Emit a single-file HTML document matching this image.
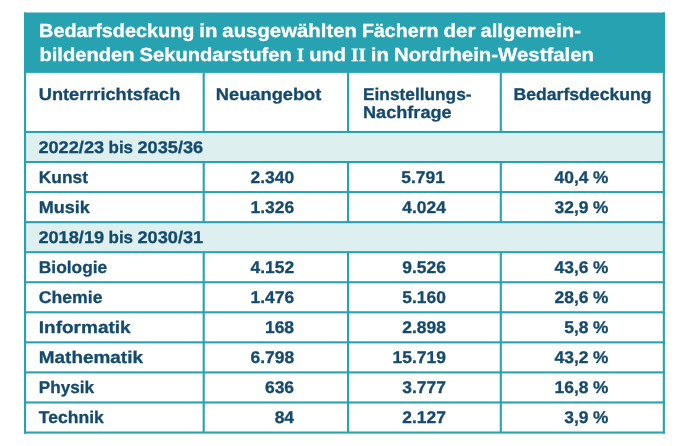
<!DOCTYPE html>
<html lang="de"><head><meta charset="utf-8"><title>Bedarfsdeckung</title>
<style>
html,body{margin:0;padding:0;background:#fff;width:690px;height:446px;overflow:hidden}
svg text{font-family:"Liberation Sans", sans-serif;font-weight:700;stroke-width:.3px;stroke-linejoin:round;text-rendering:geometricPrecision}
svg .sf{font-family:"Liberation Serif", serif}
</style></head><body>
<svg width="690" height="446" viewBox="0 0 690 446" style="position:absolute;left:0;top:0;will-change:transform">
<rect x="0" y="0" width="690" height="446" fill="#fff"/>
<rect x="25" y="132.00" width="638.9" height="30.05" fill="#ddefee"/>
<rect x="25" y="222.15" width="638.9" height="30.05" fill="#ddefee"/>
<rect x="24" y="12.5" width="640.9" height="60.40" fill="#27a2b1"/>
<rect x="24" y="12.5" width="2.1" height="421.1" fill="#27a2b1"/>
<rect x="662.8" y="12.5" width="2.1" height="421.1" fill="#27a2b1"/>
<rect x="24" y="431.5" width="640.9" height="2.1" fill="#27a2b1"/>
<rect x="24" y="130.95" width="640.9" height="2.1" fill="#27a2b1"/>
<rect x="24" y="161.00" width="640.9" height="2.1" fill="#27a2b1"/>
<rect x="24" y="191.05" width="640.9" height="2.1" fill="#27a2b1"/>
<rect x="24" y="221.10" width="640.9" height="2.1" fill="#27a2b1"/>
<rect x="24" y="251.15" width="640.9" height="2.1" fill="#27a2b1"/>
<rect x="24" y="281.20" width="640.9" height="2.1" fill="#27a2b1"/>
<rect x="24" y="311.25" width="640.9" height="2.1" fill="#27a2b1"/>
<rect x="24" y="341.30" width="640.9" height="2.1" fill="#27a2b1"/>
<rect x="24" y="371.35" width="640.9" height="2.1" fill="#27a2b1"/>
<rect x="24" y="401.40" width="640.9" height="2.1" fill="#27a2b1"/>
<rect x="202.65" y="72.90" width="2.1" height="59.10" fill="#27a2b1"/>
<rect x="347.00" y="72.90" width="2.1" height="59.10" fill="#27a2b1"/>
<rect x="499.75" y="72.90" width="2.1" height="59.10" fill="#27a2b1"/>
<rect x="202.65" y="162.05" width="2.1" height="60.10" fill="#27a2b1"/>
<rect x="347.00" y="162.05" width="2.1" height="60.10" fill="#27a2b1"/>
<rect x="499.75" y="162.05" width="2.1" height="60.10" fill="#27a2b1"/>
<rect x="202.65" y="252.20" width="2.1" height="180.40" fill="#27a2b1"/>
<rect x="347.00" y="252.20" width="2.1" height="180.40" fill="#27a2b1"/>
<rect x="499.75" y="252.20" width="2.1" height="180.40" fill="#27a2b1"/>
<text id="t1" y="37.40" font-size="18.92" fill="#fff" stroke="#fff"><tspan x="39.10" textLength="155.24" lengthAdjust="spacingAndGlyphs">Bedarfsdeckung</tspan> <tspan x="199.28" textLength="18.15" lengthAdjust="spacingAndGlyphs">in</tspan> <tspan x="222.37" textLength="134.57" lengthAdjust="spacingAndGlyphs">ausgewählten</tspan> <tspan x="361.91" textLength="76.58" lengthAdjust="spacingAndGlyphs">Fächern</tspan> <tspan x="443.43" textLength="32.03" lengthAdjust="spacingAndGlyphs">der</tspan> <tspan x="480.42" textLength="100.58" lengthAdjust="spacingAndGlyphs">allgemein-</tspan></text>
<text id="t2" y="61.40" font-size="18.92" fill="#fff" stroke="#fff"><tspan x="39.40" textLength="95.28" lengthAdjust="spacingAndGlyphs">bildenden</tspan> <tspan x="139.62" textLength="152.19" lengthAdjust="spacingAndGlyphs">Sekundarstufen</tspan> <tspan class="sf" x="296.76" textLength="7.45" lengthAdjust="spacingAndGlyphs">I</tspan> <tspan x="309.16" textLength="36.93" lengthAdjust="spacingAndGlyphs">und</tspan> <tspan class="sf" x="351.03" textLength="14.88" lengthAdjust="spacingAndGlyphs">II</tspan> <tspan x="370.86" textLength="18.14" lengthAdjust="spacingAndGlyphs">in</tspan> <tspan x="393.96" textLength="200.04" lengthAdjust="spacingAndGlyphs">Nordrhein-Westfalen</tspan></text>
<text id="h1" y="100.10" font-size="16.99" fill="#144a6e" stroke="#144a6e"><tspan x="38.80" textLength="141.48" lengthAdjust="spacingAndGlyphs">Unterrrichtsfach</tspan></text>
<text id="h2" y="100.10" font-size="16.99" fill="#144a6e" stroke="#144a6e"><tspan x="215.80" textLength="105.56" lengthAdjust="spacingAndGlyphs">Neuangebot</tspan></text>
<text id="h3a" y="100.10" font-size="16.99" fill="#144a6e" stroke="#144a6e"><tspan x="363.00" textLength="108.56" lengthAdjust="spacingAndGlyphs">Einstellungs-</tspan></text>
<text id="h3b" y="118.10" font-size="16.99" fill="#144a6e" stroke="#144a6e"><tspan x="363.00" textLength="88.66" lengthAdjust="spacingAndGlyphs">Nachfrage</tspan></text>
<text id="h4" y="100.10" font-size="16.99" fill="#144a6e" stroke="#144a6e"><tspan x="513.50" textLength="138.00" lengthAdjust="spacingAndGlyphs">Bedarfsdeckung</tspan></text>
<text id="r0a" y="152.72" font-size="16.99" fill="#144a6e" stroke="#144a6e"><tspan x="38.40" textLength="65.73" lengthAdjust="spacingAndGlyphs">2022/23</tspan> <tspan x="108.55" textLength="24.51" lengthAdjust="spacingAndGlyphs">bis</tspan> <tspan x="137.49" textLength="65.73" lengthAdjust="spacingAndGlyphs">2035/36</tspan></text>
<text id="r1a" y="182.78" font-size="16.99" fill="#144a6e" stroke="#144a6e"><tspan x="38.80" textLength="49.11" lengthAdjust="spacingAndGlyphs">Kunst</tspan></text>
<text id="r1b" y="182.78" font-size="16.99" fill="#144a6e" stroke="#144a6e"><tspan x="250.47" textLength="43.63" lengthAdjust="spacingAndGlyphs">2.340</tspan></text>
<text id="r1c" y="182.78" font-size="16.99" fill="#144a6e" stroke="#144a6e"><tspan x="401.27" textLength="43.63" lengthAdjust="spacingAndGlyphs">5.791</tspan></text>
<text id="r1d" y="182.78" font-size="16.99" fill="#144a6e" stroke="#144a6e"><tspan x="554.58" textLength="33.99" lengthAdjust="spacingAndGlyphs">40,4</tspan> <tspan x="592.97" textLength="15.33" lengthAdjust="spacingAndGlyphs">%</tspan></text>
<text id="r2a" y="212.82" font-size="16.99" fill="#144a6e" stroke="#144a6e"><tspan x="38.80" textLength="51.04" lengthAdjust="spacingAndGlyphs">Musik</tspan></text>
<text id="r2b" y="212.82" font-size="16.99" fill="#144a6e" stroke="#144a6e"><tspan x="250.47" textLength="43.63" lengthAdjust="spacingAndGlyphs">1.326</tspan></text>
<text id="r2c" y="212.82" font-size="16.99" fill="#144a6e" stroke="#144a6e"><tspan x="402.27" textLength="43.63" lengthAdjust="spacingAndGlyphs">4.024</tspan></text>
<text id="r2d" y="212.82" font-size="16.99" fill="#144a6e" stroke="#144a6e"><tspan x="554.58" textLength="33.99" lengthAdjust="spacingAndGlyphs">32,9</tspan> <tspan x="592.97" textLength="15.33" lengthAdjust="spacingAndGlyphs">%</tspan></text>
<text id="r3a" y="242.88" font-size="16.99" fill="#144a6e" stroke="#144a6e"><tspan x="38.40" textLength="65.73" lengthAdjust="spacingAndGlyphs">2018/19</tspan> <tspan x="108.55" textLength="24.51" lengthAdjust="spacingAndGlyphs">bis</tspan> <tspan x="137.49" textLength="65.73" lengthAdjust="spacingAndGlyphs">2030/31</tspan></text>
<text id="r4a" y="272.92" font-size="16.99" fill="#144a6e" stroke="#144a6e"><tspan x="38.80" textLength="68.41" lengthAdjust="spacingAndGlyphs">Biologie</tspan></text>
<text id="r4b" y="272.92" font-size="16.99" fill="#144a6e" stroke="#144a6e"><tspan x="250.47" textLength="43.63" lengthAdjust="spacingAndGlyphs">4.152</tspan></text>
<text id="r4c" y="272.92" font-size="16.99" fill="#144a6e" stroke="#144a6e"><tspan x="402.27" textLength="43.63" lengthAdjust="spacingAndGlyphs">9.526</tspan></text>
<text id="r4d" y="272.92" font-size="16.99" fill="#144a6e" stroke="#144a6e"><tspan x="554.58" textLength="33.99" lengthAdjust="spacingAndGlyphs">43,6</tspan> <tspan x="592.97" textLength="15.33" lengthAdjust="spacingAndGlyphs">%</tspan></text>
<text id="r5a" y="302.97" font-size="16.99" fill="#144a6e" stroke="#144a6e"><tspan x="38.80" textLength="63.67" lengthAdjust="spacingAndGlyphs">Chemie</tspan></text>
<text id="r5b" y="302.97" font-size="16.99" fill="#144a6e" stroke="#144a6e"><tspan x="250.47" textLength="43.63" lengthAdjust="spacingAndGlyphs">1.476</tspan></text>
<text id="r5c" y="302.97" font-size="16.99" fill="#144a6e" stroke="#144a6e"><tspan x="402.27" textLength="43.63" lengthAdjust="spacingAndGlyphs">5.160</tspan></text>
<text id="r5d" y="302.97" font-size="16.99" fill="#144a6e" stroke="#144a6e"><tspan x="554.58" textLength="33.99" lengthAdjust="spacingAndGlyphs">28,6</tspan> <tspan x="592.97" textLength="15.33" lengthAdjust="spacingAndGlyphs">%</tspan></text>
<text id="r6a" y="333.02" font-size="16.99" fill="#144a6e" stroke="#144a6e"><tspan x="38.80" textLength="91.85" lengthAdjust="spacingAndGlyphs">Informatik</tspan></text>
<text id="r6b" y="333.02" font-size="16.99" fill="#144a6e" stroke="#144a6e"><tspan x="264.95" textLength="29.15" lengthAdjust="spacingAndGlyphs">168</tspan></text>
<text id="r6c" y="333.02" font-size="16.99" fill="#144a6e" stroke="#144a6e"><tspan x="402.27" textLength="43.63" lengthAdjust="spacingAndGlyphs">2.898</tspan></text>
<text id="r6d" y="333.02" font-size="16.99" fill="#144a6e" stroke="#144a6e"><tspan x="564.29" textLength="24.27" lengthAdjust="spacingAndGlyphs">5,8</tspan> <tspan x="592.96" textLength="15.34" lengthAdjust="spacingAndGlyphs">%</tspan></text>
<text id="r7a" y="363.07" font-size="16.99" fill="#144a6e" stroke="#144a6e"><tspan x="38.80" textLength="104.13" lengthAdjust="spacingAndGlyphs">Mathematik</tspan></text>
<text id="r7b" y="363.07" font-size="16.99" fill="#144a6e" stroke="#144a6e"><tspan x="250.47" textLength="43.63" lengthAdjust="spacingAndGlyphs">6.798</tspan></text>
<text id="r7c" y="363.07" font-size="16.99" fill="#144a6e" stroke="#144a6e"><tspan x="392.55" textLength="53.35" lengthAdjust="spacingAndGlyphs">15.719</tspan></text>
<text id="r7d" y="363.07" font-size="16.99" fill="#144a6e" stroke="#144a6e"><tspan x="554.58" textLength="33.99" lengthAdjust="spacingAndGlyphs">43,2</tspan> <tspan x="592.97" textLength="15.33" lengthAdjust="spacingAndGlyphs">%</tspan></text>
<text id="r8a" y="393.12" font-size="16.99" fill="#144a6e" stroke="#144a6e"><tspan x="38.80" textLength="55.25" lengthAdjust="spacingAndGlyphs">Physik</tspan></text>
<text id="r8b" y="393.12" font-size="16.99" fill="#144a6e" stroke="#144a6e"><tspan x="264.95" textLength="29.15" lengthAdjust="spacingAndGlyphs">636</tspan></text>
<text id="r8c" y="393.12" font-size="16.99" fill="#144a6e" stroke="#144a6e"><tspan x="402.27" textLength="43.63" lengthAdjust="spacingAndGlyphs">3.777</tspan></text>
<text id="r8d" y="393.12" font-size="16.99" fill="#144a6e" stroke="#144a6e"><tspan x="554.58" textLength="33.99" lengthAdjust="spacingAndGlyphs">16,8</tspan> <tspan x="592.97" textLength="15.33" lengthAdjust="spacingAndGlyphs">%</tspan></text>
<text id="r9a" y="423.17" font-size="16.99" fill="#144a6e" stroke="#144a6e"><tspan x="38.80" textLength="64.99" lengthAdjust="spacingAndGlyphs">Technik</tspan></text>
<text id="r9b" y="423.17" font-size="16.99" fill="#144a6e" stroke="#144a6e"><tspan x="274.66" textLength="19.44" lengthAdjust="spacingAndGlyphs">84</tspan></text>
<text id="r9c" y="423.17" font-size="16.99" fill="#144a6e" stroke="#144a6e"><tspan x="402.27" textLength="43.63" lengthAdjust="spacingAndGlyphs">2.127</tspan></text>
<text id="r9d" y="423.17" font-size="16.99" fill="#144a6e" stroke="#144a6e"><tspan x="564.29" textLength="24.27" lengthAdjust="spacingAndGlyphs">3,9</tspan> <tspan x="592.96" textLength="15.34" lengthAdjust="spacingAndGlyphs">%</tspan></text>
</svg>
</body></html>
